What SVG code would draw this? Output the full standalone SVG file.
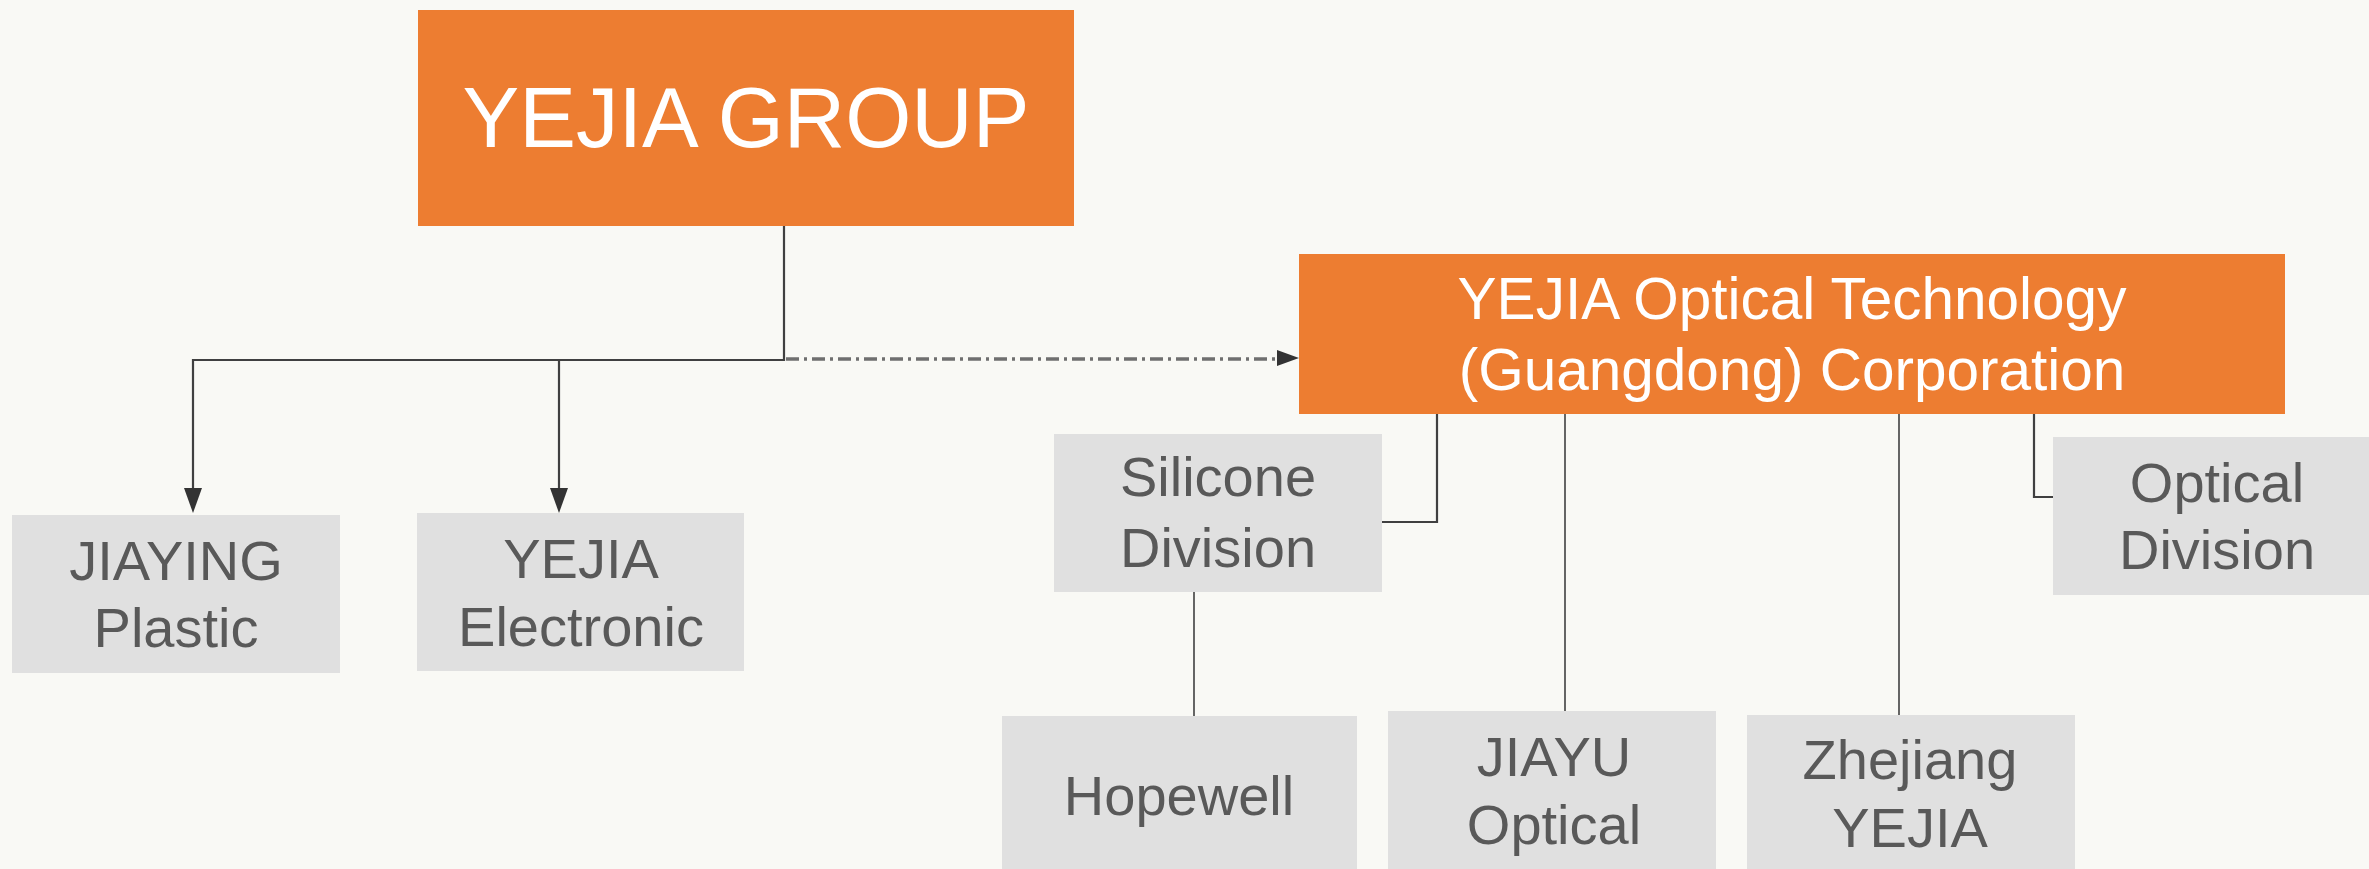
<svg xmlns="http://www.w3.org/2000/svg" width="2369" height="869" viewBox="0 0 2369 869">
<style>
.bg{fill:#F9F9F5}
.org{fill:#ED7D31}
.gry{fill:#E0E0E0}
.tw{fill:#FFFFFF;font-family:"Liberation Sans",Arial,sans-serif;text-anchor:middle}
.tg{fill:#595959;font-family:"Liberation Sans",Arial,sans-serif;font-size:56px;text-anchor:middle}
.ln{fill:none;stroke:#404040;stroke-width:2.2}
.lt{fill:none;stroke:#404040;stroke-width:1.6}
.dd{fill:none;stroke:#6F6F6F;stroke-width:3.5;stroke-dasharray:13 5 3 5}
.ah{fill:#333333}
</style>
<rect class="bg" x="0" y="0" width="2369" height="869"/>
<g id="connectors">
<path class="ln" d="M784,226 V360 H193 V488"/>
<path class="ln" d="M559,360 V488"/>
<path class="ah" d="M184,488 L202,488 L193,513 z"/>
<path class="ah" d="M550,488 L568,488 L559,513 z"/>
<path class="dd" d="M786,359 H1278"/>
<path class="ah" d="M1277,350 L1299,358 L1277,366 z"/>
<path class="ln" d="M1437,414 V522 H1382"/>
<path class="lt" d="M1565,414 V711"/>
<path class="lt" d="M1899,414 V715"/>
<path class="ln" d="M2034,414 V497 H2053"/>
<path class="lt" d="M1194,592 V716"/>
</g>
<g id="yejia-group">
<rect class="org" x="418" y="10" width="656" height="216"/>
<text class="tw" x="746" y="147" font-size="85">YEJIA GROUP</text>
</g>
<g id="yejia-optical-tech">
<rect class="org" x="1299" y="254" width="986" height="160"/>
<text class="tw" font-size="58.5"><tspan x="1792" y="319">YEJIA Optical Technology</tspan><tspan x="1792" y="390">(Guangdong) Corporation</tspan></text>
</g>
<g id="jiaying-plastic">
<rect class="gry" x="12" y="515" width="328" height="158"/>
<text class="tg"><tspan x="176" y="580">JIAYING</tspan><tspan x="176" y="647">Plastic</tspan></text>
</g>
<g id="yejia-electronic">
<rect class="gry" x="417" y="513" width="327" height="158"/>
<text class="tg"><tspan x="581" y="578">YEJIA</tspan><tspan x="581" y="646">Electronic</tspan></text>
</g>
<g id="silicone-division">
<rect class="gry" x="1054" y="434" width="328" height="158"/>
<text class="tg"><tspan x="1218" y="496">Silicone</tspan><tspan x="1218" y="567">Division</tspan></text>
</g>
<g id="optical-division">
<rect class="gry" x="2053" y="437" width="328" height="158"/>
<text class="tg"><tspan x="2217" y="502">Optical</tspan><tspan x="2217" y="569">Division</tspan></text>
</g>
<g id="hopewell">
<rect class="gry" x="1002" y="716" width="355" height="160"/>
<text class="tg" x="1179" y="815">Hopewell</text>
</g>
<g id="jiayu-optical">
<rect class="gry" x="1388" y="711" width="328" height="165"/>
<text class="tg"><tspan x="1554" y="776">JIAYU</tspan><tspan x="1554" y="844">Optical</tspan></text>
</g>
<g id="zhejiang-yejia">
<rect class="gry" x="1747" y="715" width="328" height="160"/>
<text class="tg"><tspan x="1910" y="779">Zhejiang</tspan><tspan x="1910" y="847">YEJIA</tspan></text>
</g>
</svg>
